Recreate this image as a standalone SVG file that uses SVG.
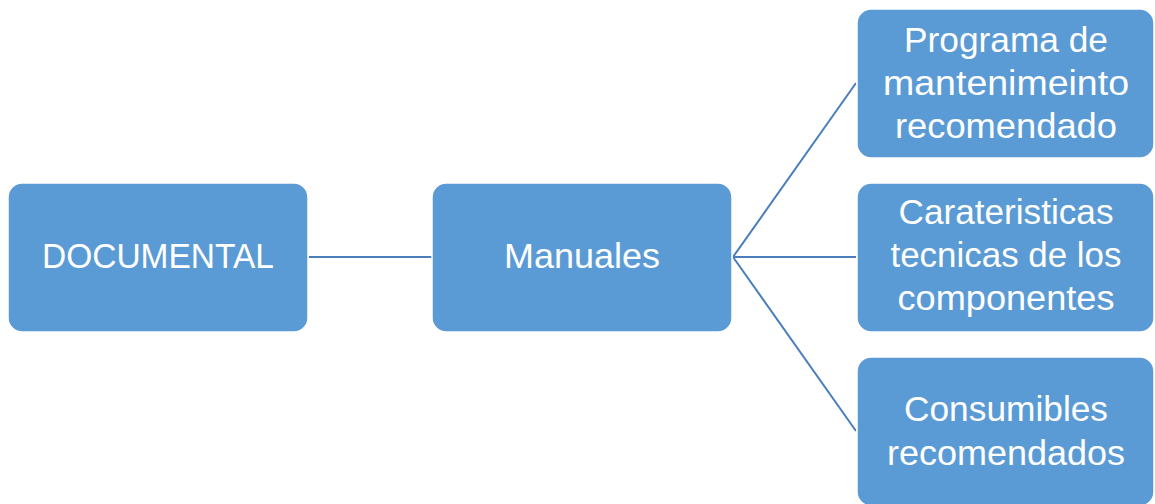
<svg xmlns="http://www.w3.org/2000/svg" width="1155" height="504" viewBox="0 0 1155 504">
<style>
.box{fill:#5B9BD5;stroke:#FFFFFF;stroke-width:1.5}
.t{font-family:"Liberation Sans",Arial,sans-serif;font-size:35px;fill:#FFFFFF;text-anchor:middle}
.c{stroke:#4A7EBB;stroke-width:2;fill:none}
</style>
<rect width="1155" height="504" fill="#FFFFFF"/>
<g id="connectors">
<line class="c" x1="309" y1="257" x2="432" y2="257"/>
<line class="c" x1="733" y1="257" x2="856" y2="83"/>
<line class="c" x1="733" y1="257" x2="856" y2="257"/>
<line class="c" x1="733" y1="257" x2="856" y2="431"/>
</g>
<g id="documental">
<rect class="box" x="8" y="183" width="300" height="149" rx="14"/>
<text class="t" x="158" y="268" textLength="232" lengthAdjust="spacingAndGlyphs">DOCUMENTAL</text>
</g>
<g id="manuales">
<rect class="box" x="432" y="183" width="300" height="149" rx="14"/>
<text class="t" x="582" y="268" textLength="156" lengthAdjust="spacingAndGlyphs">Manuales</text>
</g>
<g id="programa">
<rect class="box" x="857" y="9" width="297" height="149" rx="14"/>
<text class="t" x="1006" y="52" textLength="204" lengthAdjust="spacingAndGlyphs">Programa de</text>
<text class="t" x="1006" y="95" textLength="246" lengthAdjust="spacingAndGlyphs">mantenimeinto</text>
<text class="t" x="1006" y="138" textLength="222" lengthAdjust="spacingAndGlyphs">recomendado</text>
</g>
<g id="caracteristicas">
<rect class="box" x="857" y="183" width="297" height="149" rx="14"/>
<text class="t" x="1006" y="224" textLength="215" lengthAdjust="spacingAndGlyphs">Carateristicas</text>
<text class="t" x="1006" y="267" textLength="231" lengthAdjust="spacingAndGlyphs">tecnicas de los</text>
<text class="t" x="1006" y="310" textLength="217" lengthAdjust="spacingAndGlyphs">componentes</text>
</g>
<g id="consumibles">
<rect class="box" x="857" y="357" width="297" height="149" rx="14"/>
<text class="t" x="1006" y="421" textLength="204" lengthAdjust="spacingAndGlyphs">Consumibles</text>
<text class="t" x="1006" y="465" textLength="238" lengthAdjust="spacingAndGlyphs">recomendados</text>
</g>
</svg>
